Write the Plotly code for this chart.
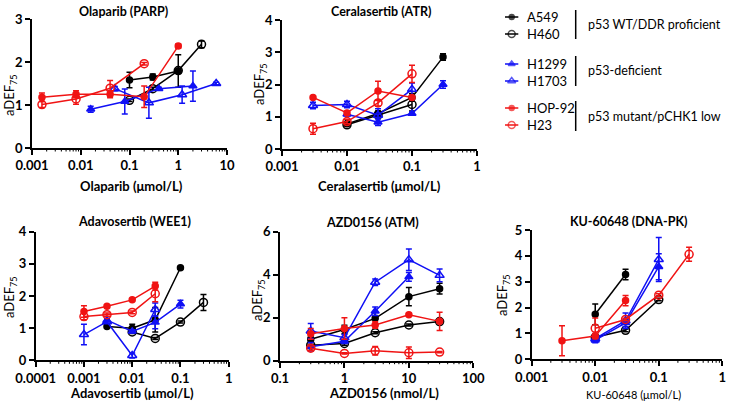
import math
import plotly.graph_objects as go

W, H = 730, 404

# ---------------- data ----------------
cell_lines = ["A549", "H460", "H1299", "H1703", "HOP-92", "H23"]
group_labels = ["p53 WT/DDR proficient", "p53-deficient", "p53 mutant/pCHK1 low"]
panel_titles = ["Olaparib (PARP)", "Ceralasertib (ATR)", "Adavosertib (WEE1)",
                "AZD0156 (ATM)", "KU-60648 (DNA-PK)"]
x_titles = ["Olaparib (μmol/L)", "Ceralasertib (μmol/L)", "Adavosertib (μmol/L)",
            "AZD0156 (nmol/L)", "KU-60648 (μmol/L)"]
y_title = "aDEF<sub>75</sub>"

# x tick labels per panel
ola_xticks = ["0.001", "0.01", "0.1", "1", "10"]
cer_xticks = ["0.001", "0.01", "0.1", "1"]
ada_xticks = ["0.0001", "0.001", "0.01", "0.1", "1"]
azd_xticks = ["0.1", "1", "10", "100"]
ku_xticks = ["0.001", "0.01", "0.1", "1"]
ola_yticks = [0, 1, 2, 3]
cer_yticks = [0, 1, 2, 3, 4]
ada_yticks = [0, 1, 2, 3, 4]
azd_yticks = [0, 2, 4, 6]
ku_yticks = [0, 1, 2, 3, 4, 5]

# Olaparib (PARP)
ola_A549_x = [0.1, 0.3, 1.0]
ola_A549_y = [1.58, 1.65, 1.79]
ola_A549_e = [0.18, 0.07, 0.38]
ola_H460_x = [0.1, 0.3, 1.0, 3.0]
ola_H460_y = [1.11, 1.38, 1.80, 2.41]
ola_H460_e = [0.03, 0.03, 0.05, 0.08]
ola_H1299_x = [0.016, 0.08, 0.4, 2.0]
ola_H1299_y = [0.90, 1.08, 1.38, 1.44]
ola_H1299_e = [0.07, 0.29, 0.03, 0.35]
ola_H1703_x = [0.05, 0.25, 1.2, 6.0]
ola_H1703_y = [1.38, 1.05, 1.24, 1.50]
ola_H1703_e = [0.05, 0.36, 0.20, 0.03]
ola_HOP92_x = [0.0016, 0.008, 0.04, 0.2, 1.0]
ola_HOP92_y = [1.18, 1.25, 1.25, 1.19, 2.37]
ola_HOP92_e = [0.10, 0.08, 0.08, 0.25, 0.05]
ola_H23_x = [0.0016, 0.008, 0.04, 0.2]
ola_H23_y = [1.01, 1.14, 1.39, 1.96]
ola_H23_e = [0.07, 0.12, 0.18, 0.03]

# Ceralasertib (ATR)
cer_A549_x = [0.01, 0.03, 0.1, 0.3]
cer_A549_y = [0.78, 1.10, 1.60, 2.85]
cer_A549_e = [0.03, 0.08, 0.12, 0.10]
cer_H460_x = [0.01, 0.03, 0.1]
cer_H460_y = [0.75, 1.05, 1.38]
cer_H460_e = [0.03, 0.05, 0.20]
cer_H1299_x = [0.01, 0.03, 0.1, 0.3]
cer_H1299_y = [1.08, 0.83, 1.10, 2.00]
cer_H1299_e = [0.05, 0.10, 0.05, 0.12]
cer_H1703_x = [0.003, 0.01, 0.03, 0.1]
cer_H1703_y = [1.35, 1.38, 1.05, 1.85]
cer_H1703_e = [0.10, 0.10, 0.20, 0.20]
cer_HOP92_x = [0.003, 0.01, 0.03, 0.1]
cer_HOP92_y = [1.60, 1.12, 1.80, 1.60]
cer_HOP92_e = [0.03, 0.05, 0.30, 0.05]
cer_H23_x = [0.003, 0.01, 0.03, 0.1]
cer_H23_y = [0.63, 0.85, 1.43, 2.33]
cer_H23_e = [0.17, 0.07, 0.10, 0.27]

# Adavosertib (WEE1)
ada_A549_x = [0.003, 0.01, 0.03, 0.1]
ada_A549_y = [1.05, 1.00, 1.26, 2.88]
ada_A549_e = [0.03, 0.12, 0.38, 0.03]
ada_H460_x = [0.01, 0.03, 0.1, 0.3]
ada_H460_y = [0.88, 0.68, 1.19, 1.80]
ada_H460_e = [0.05, 0.03, 0.03, 0.25]
ada_H1299_x = [0.003, 0.01, 0.03, 0.1]
ada_H1299_y = [1.25, 0.90, 1.18, 1.75]
ada_H1299_e = [0.05, 0.05, 0.20, 0.12]
ada_H1703_x = [0.001, 0.003, 0.01, 0.03]
ada_H1703_y = [0.80, 1.20, 0.15, 1.58]
ada_H1703_e = [0.32, 0.05, 0.08, 0.20]
ada_HOP92_x = [0.001, 0.003, 0.01, 0.03]
ada_HOP92_y = [1.52, 1.68, 1.88, 2.31]
ada_HOP92_e = [0.18, 0.03, 0.03, 0.12]
ada_H23_x = [0.001, 0.003, 0.01, 0.03]
ada_H23_y = [1.36, 1.42, 1.49, 2.07]
ada_H23_e = [0.10, 0.05, 0.04, 0.25]

# AZD0156 (ATM)
azd_A549_x = [0.3, 1, 3, 10, 30]
azd_A549_y = [1.00, 1.45, 1.97, 2.98, 3.35]
azd_A549_e = [0.10, 0.20, 0.30, 0.42, 0.25]
azd_H460_x = [0.3, 1, 3, 10, 30]
azd_H460_y = [0.72, 0.80, 1.30, 1.66, 1.82]
azd_H460_e = [0.05, 0.08, 0.05, 0.05, 0.05]
azd_H1299_x = [0.3, 1, 3, 10]
azd_H1299_y = [0.65, 0.90, 2.30, 3.90]
azd_H1299_e = [0.20, 0.10, 0.20, 0.20]
azd_H1703_x = [0.3, 1, 3, 10, 30]
azd_H1703_y = [1.38, 1.07, 3.65, 4.70, 3.97]
azd_H1703_e = [0.35, 0.15, 0.15, 0.50, 0.30]
azd_HOP92_x = [0.3, 1, 3, 10, 30]
azd_HOP92_y = [1.25, 1.50, 1.66, 2.14, 1.83]
azd_HOP92_e = [0.25, 0.50, 0.15, 0.05, 0.42]
azd_H23_x = [0.3, 1, 3, 10, 30]
azd_H23_y = [0.58, 0.34, 0.46, 0.37, 0.40]
azd_H23_e = [0.10, 0.03, 0.20, 0.27, 0.03]

# KU-60648 (DNA-PK)
ku_A549_x = [0.01, 0.03]
ku_A549_y = [1.74, 3.28]
ku_A549_e = [0.40, 0.20]
ku_H460_x = [0.01, 0.03, 0.1]
ku_H460_y = [0.85, 1.12, 2.31]
ku_H460_e = [0.05, 0.05, 0.05]
ku_H1299_x = [0.01, 0.03, 0.1]
ku_H1299_y = [0.74, 1.41, 3.58]
ku_H1299_e = [0.10, 0.15, 0.50]
ku_H1703_x = [0.01, 0.03, 0.1]
ku_H1703_y = [0.80, 1.49, 3.86]
ku_H1703_e = [0.10, 0.30, 0.85]
ku_HOP92_x = [0.003, 0.01, 0.03]
ku_HOP92_y = [0.72, 0.90, 2.27]
ku_HOP92_e = [0.58, 0.10, 0.20]
ku_H23_x = [0.01, 0.03, 0.1, 0.3]
ku_H23_y = [1.20, 1.54, 2.48, 4.06]
ku_H23_e = [0.40, 0.05, 0.05, 0.27]

# ---------------- styling ----------------
BLACK, BLUE, RED = "#000000", "#1010f5", "#f01414"
FONT = "Lato"
style = {
    "A549": dict(color=BLACK, symbol="circle", size=6),
    "H460": dict(color=BLACK, symbol="circle-open", size=8),
    "H1299": dict(color=BLUE, symbol="triangle-up", size=7),
    "H1703": dict(color=BLUE, symbol="triangle-up-open", size=8),
    "HOP-92": dict(color=RED, symbol="circle", size=6),
    "H23": dict(color=RED, symbol="circle-open", size=8),
}

panels = [
    dict(series={"A549": (ola_A549_x, ola_A549_y, ola_A549_e), "H460": (ola_H460_x, ola_H460_y, ola_H460_e),
                 "H1299": (ola_H1299_x, ola_H1299_y, ola_H1299_e), "H1703": (ola_H1703_x, ola_H1703_y, ola_H1703_e),
                 "HOP-92": (ola_HOP92_x, ola_HOP92_y, ola_HOP92_e), "H23": (ola_H23_x, ola_H23_y, ola_H23_e)},
         xticks=ola_xticks, yticks=ola_yticks, box=(32, 227, 19, 148),
         title_xy=(123, 11), xt_xy=(131, 186), yt_xy=(10, 95)),
    dict(series={"A549": (cer_A549_x, cer_A549_y, cer_A549_e), "H460": (cer_H460_x, cer_H460_y, cer_H460_e),
                 "H1299": (cer_H1299_x, cer_H1299_y, cer_H1299_e), "H1703": (cer_H1703_x, cer_H1703_y, cer_H1703_e),
                 "HOP-92": (cer_HOP92_x, cer_HOP92_y, cer_HOP92_e), "H23": (cer_H23_x, cer_H23_y, cer_H23_e)},
         xticks=cer_xticks, yticks=cer_yticks, box=(282, 477, 20, 149),
         title_xy=(381, 11), xt_xy=(379, 186), yt_xy=(260, 84)),
    dict(series={"A549": (ada_A549_x, ada_A549_y, ada_A549_e), "H460": (ada_H460_x, ada_H460_y, ada_H460_e),
                 "H1299": (ada_H1299_x, ada_H1299_y, ada_H1299_e), "H1703": (ada_H1703_x, ada_H1703_y, ada_H1703_e),
                 "HOP-92": (ada_HOP92_x, ada_HOP92_y, ada_HOP92_e), "H23": (ada_H23_x, ada_H23_y, ada_H23_e)},
         xticks=ada_xticks, yticks=ada_yticks, box=(35.7, 228.7, 231.7, 360.3),
         title_xy=(134, 221), xt_xy=(132, 393), yt_xy=(10, 297)),
    dict(series={"A549": (azd_A549_x, azd_A549_y, azd_A549_e), "H460": (azd_H460_x, azd_H460_y, azd_H460_e),
                 "H1299": (azd_H1299_x, azd_H1299_y, azd_H1299_e), "H1703": (azd_H1703_x, azd_H1703_y, azd_H1703_e),
                 "HOP-92": (azd_HOP92_x, azd_HOP92_y, azd_HOP92_e), "H23": (azd_H23_x, azd_H23_y, azd_H23_e)},
         xticks=azd_xticks, yticks=azd_yticks, box=(280, 473.3, 231.7, 360.7),
         title_xy=(372, 222), xt_xy=(384, 393), yt_xy=(258, 300)),
    dict(series={"A549": (ku_A549_x, ku_A549_y, ku_A549_e), "H460": (ku_H460_x, ku_H460_y, ku_H460_e),
                 "H1299": (ku_H1299_x, ku_H1299_y, ku_H1299_e), "H1703": (ku_H1703_x, ku_H1703_y, ku_H1703_e),
                 "HOP-92": (ku_HOP92_x, ku_HOP92_y, ku_HOP92_e), "H23": (ku_H23_x, ku_H23_y, ku_H23_e)},
         xticks=ku_xticks, yticks=ku_yticks, box=(531.7, 722.3, 230, 359.3),
         title_xy=(628, 221), xt_xy=(633, 394), yt_xy=(503, 295)),
]


def px(x):
    return x / W


def py(y):
    return 1 - y / H


fig = go.Figure()
annotations = []
shapes = []
layout = {}

for i, p in enumerate(panels, start=1):
    xa = "x" if i == 1 else f"x{i}"
    ya = "y" if i == 1 else f"y{i}"
    for name in cell_lines:
        xs, ys, es = p["series"][name]
        st = style[name]
        fig.add_trace(go.Scatter(
            x=xs, y=ys, xaxis=xa, yaxis=ya, mode="lines+markers", showlegend=False,
            cliponaxis=False, name=name,
            line=dict(color=st["color"], width=1.5),
            marker=dict(color=st["color"], symbol=st["symbol"], size=st["size"],
                        line=dict(color=st["color"], width=1.5)),
            error_y=dict(type="data", array=es, color=st["color"], thickness=1.5, width=3),
        ))
    L, R, T, B = p["box"]
    tv = [float(t) for t in p["xticks"]]
    lo, hi = math.log10(tv[0]), math.log10(tv[-1])
    tickfont = dict(family=FONT, size=13, color="black", weight="bold")
    common = dict(showline=True, linecolor="black", linewidth=1.6, ticks="outside",
                  tickcolor="black", tickwidth=1.6, ticklen=5, showgrid=False, zeroline=False,
                  automargin=False, tickfont=tickfont)
    layout["xaxis" if i == 1 else f"xaxis{i}"] = dict(
        type="log", range=[lo, hi], domain=[px(L), px(R)], anchor=ya,
        tickmode="array", tickvals=tv, ticktext=p["xticks"], **common)
    layout["yaxis" if i == 1 else f"yaxis{i}"] = dict(
        range=[0, p["yticks"][-1]], domain=[py(B), py(T)], anchor=xa,
        tickmode="array", tickvals=p["yticks"], ticktext=[str(v) for v in p["yticks"]], **common)
    # minor log ticks (2..9 within each decade) below the x axis, in paper coordinates
    for k in range(int(round(lo)), int(round(hi))):
        for m in range(2, 10):
            frac = (math.log10(m) + k - lo) / (hi - lo)
            xp = px(L + frac * (R - L))
            shapes.append(dict(type="line", xref="paper", yref="paper", x0=xp, x1=xp,
                               y0=py(B + 0.5), y1=py(B + 3.5), line=dict(color="black", width=1)))
    tx, ty = p["title_xy"]
    annotations.append(dict(text=panel_titles[i - 1], x=px(tx), y=py(ty), xref="paper", yref="paper",
                            showarrow=False, xanchor="center", yanchor="middle",
                            font=dict(family=FONT, size=12.5, color="black", weight="bold")))
    xx, xy = p["xt_xy"]
    small = (i == 5)
    annotations.append(dict(text=x_titles[i - 1], x=px(xx), y=py(xy), xref="paper", yref="paper",
                            showarrow=False, xanchor="center", yanchor="middle",
                            font=dict(family=FONT, size=11 if small else 13, color="black",
                                      weight="normal" if small else "bold")))
    yx, yy = p["yt_xy"]
    annotations.append(dict(text=y_title, x=px(yx), y=py(yy), xref="paper", yref="paper",
                            showarrow=False, xanchor="center", yanchor="middle", textangle=-90,
                            font=dict(family=FONT, size=13, color="black")))

# ---------------- legend (custom, small pixel-space subplot) ----------------
LX0, LX1, LY0, LY1 = 495, 530, 5, 140
layout["xaxis6"] = dict(domain=[px(LX0), px(LX1)], range=[LX0, LX1], visible=False,
                        anchor="y6", fixedrange=True, automargin=False)
layout["yaxis6"] = dict(domain=[py(LY1), py(LY0)], range=[LY1, LY0], visible=False,
                        anchor="x6", fixedrange=True, automargin=False)
leg_rows = [17, 34, 64, 81, 108, 125]
for name, yrow in zip(cell_lines, leg_rows):
    st = style[name]
    fig.add_trace(go.Scatter(
        x=[505, 511.7, 518.3], y=[yrow] * 3, xaxis="x6", yaxis="y6", mode="lines+markers",
        showlegend=False, hoverinfo="skip", cliponaxis=False,
        line=dict(color=st["color"], width=1.5),
        marker=dict(color=st["color"], symbol=st["symbol"], size=[0, st["size"] - 1, 0],
                    line=dict(color=st["color"], width=1.5)),
    ))
    annotations.append(dict(text=name, x=px(525), y=py(yrow), xref="paper", yref="paper",
                            showarrow=False, xanchor="left", yanchor="middle",
                            font=dict(family=FONT, size=13, color="black")))

for (y0, y1), lab, ym in zip([(10, 39), (56, 86), (101, 131)], group_labels, [24.5, 71, 116]):
    shapes.append(dict(type="line", xref="paper", yref="paper", x0=px(575.7), x1=px(575.7),
                       y0=py(y0), y1=py(y1), line=dict(color="black", width=1.5)))
    annotations.append(dict(text=lab, x=px(586), y=py(ym), xref="paper", yref="paper",
                            showarrow=False, xanchor="left", yanchor="middle",
                            font=dict(family=FONT, size=12.5, color="black")))

fig.update_layout(
    template="none",
    width=W, height=H, margin=dict(l=0, r=0, t=0, b=0, pad=0, autoexpand=False),
    paper_bgcolor="white", plot_bgcolor="rgba(0,0,0,0)",
    annotations=annotations, shapes=shapes, showlegend=False,
    font=dict(family=FONT, color="black"),
    **layout,
)

fig.write_html(
    "out.html",
    config={"displayModeBar": False, "responsive": False},
    post_script="document.body.style.margin='0';document.body.style.overflow='hidden';",
)
